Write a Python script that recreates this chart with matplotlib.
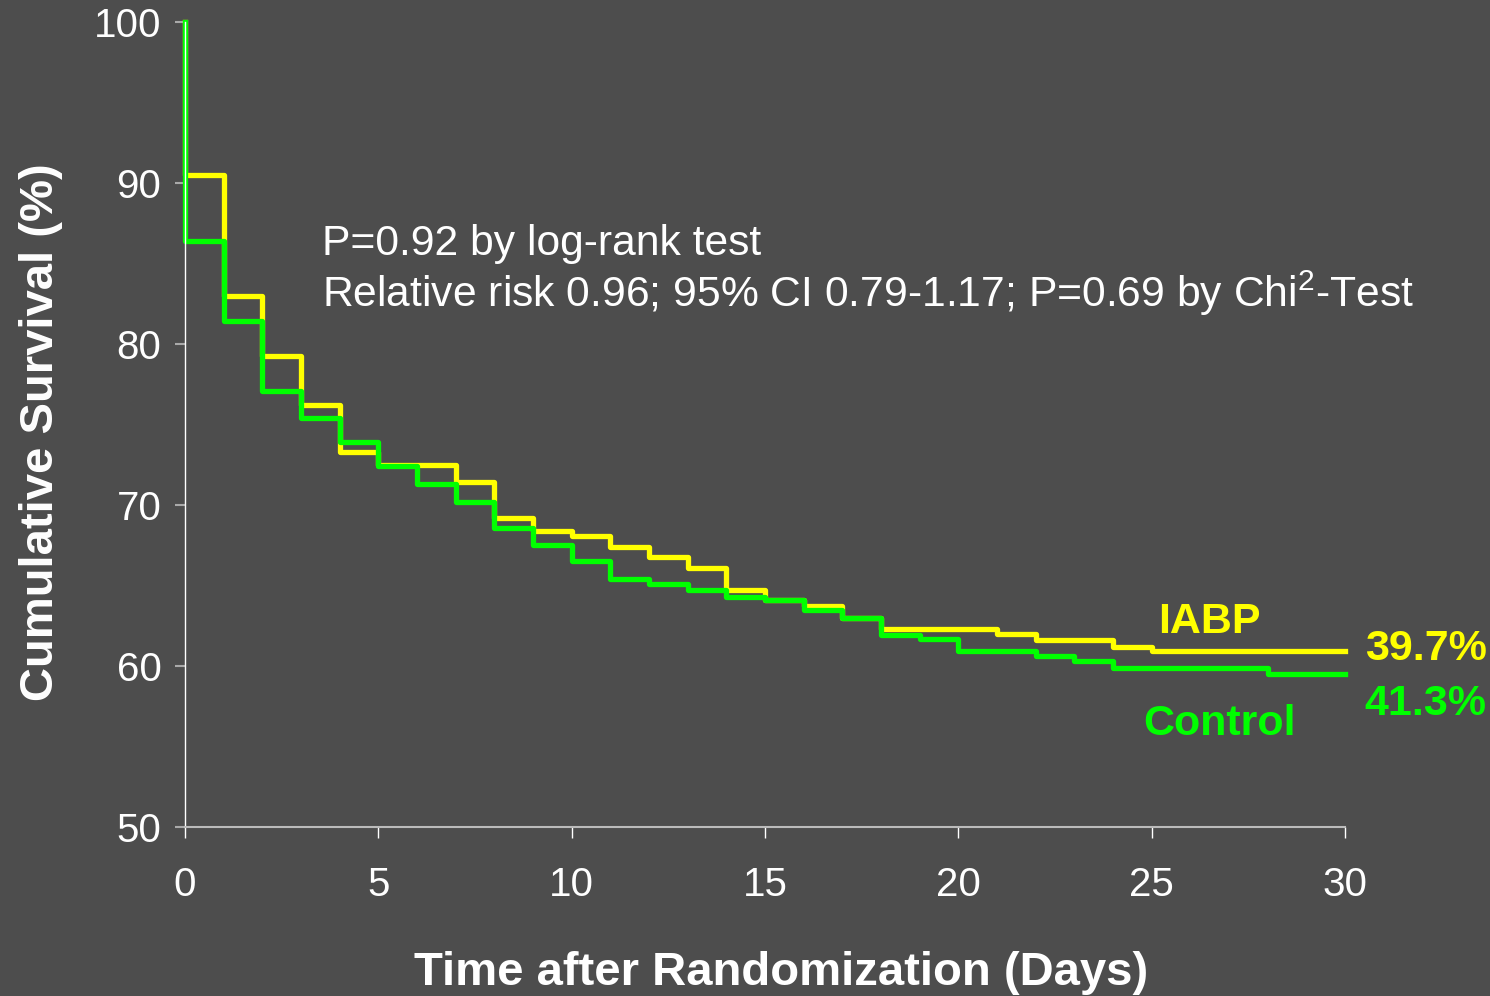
import matplotlib
matplotlib.use("Agg")
import matplotlib.pyplot as plt

# Kaplan-Meier style step data (days, cumulative survival %)
iabp_days = [0, 0, 1, 2, 3, 4, 5, 7, 8, 9, 10, 11, 12, 13, 14, 15, 16, 17, 18, 21, 22, 24, 25, 30]
iabp_surv = [100, 90.5, 83.0, 79.25, 76.2, 73.3, 72.5, 71.4, 69.2, 68.4, 68.1, 67.4, 66.8, 66.1,
             64.7, 64.1, 63.7, 63.0, 62.3, 62.0, 61.6, 61.2, 60.9, 60.9]

control_days = [0, 0, 1, 2, 3, 4, 5, 6, 7, 8, 9, 10, 11, 12, 13, 14, 15, 16, 17, 18, 19, 20, 22, 23, 24, 28, 30]
control_surv = [100, 86.4, 81.4, 77.1, 75.4, 73.9, 72.4, 71.3, 70.2, 68.6, 67.5, 66.5, 65.4, 65.1,
                64.7, 64.3, 64.1, 63.5, 63.0, 61.9, 61.7, 60.9, 60.6, 60.3, 59.9, 59.5, 59.5]

x_ticks = [0, 5, 10, 15, 20, 25, 30]
y_ticks = [50, 60, 70, 80, 90, 100]

BG = "#4d4d4d"
YELLOW = "#ffff00"
GREEN = "#00ff00"
FONT = "Liberation Sans"

plt.rcParams["font.family"] = [FONT, "DejaVu Sans"]
plt.rcParams["mathtext.fontset"] = "custom"
plt.rcParams["mathtext.rm"] = FONT
plt.rcParams["mathtext.it"] = FONT

fig = plt.figure(figsize=(14.9, 9.96), dpi=100, facecolor=BG)
ax = fig.add_axes([0.1242, 0.1697, 0.7785, 0.8082], facecolor=BG)

ax.step(iabp_days, iabp_surv, where="post", color=YELLOW, lw=3.8, clip_on=False)
ax.step(control_days, control_surv, where="post", color=GREEN, lw=3.8, clip_on=False)

ax.set_xlim(0, 30)
ax.set_ylim(50, 100)
ax.set_xticks(x_ticks)
ax.set_yticks(y_ticks)

for side in ["top", "right"]:
    ax.spines[side].set_visible(False)
ax.spines["left"].set_color("white")
ax.spines["left"].set_linewidth(1.0)
ax.spines["bottom"].set_color("#bbbbbb")
ax.spines["bottom"].set_linewidth(1.5)

ax.tick_params(axis="x", colors="white", labelsize=29, length=8, width=1, pad=20)
ax.tick_params(axis="y", colors="#aaaaaa", labelcolor="white", labelsize=29, length=7, width=1.5, pad=10)

ax.set_xlabel("Time after Randomization (Days)", color="white", fontsize=34,
              fontweight="bold", labelpad=34)
ax.xaxis.label.set_x(0.514)
ax.set_ylabel("Cumulative Survival (%)", color="white", fontsize=34,
              fontweight="bold", labelpad=22)
ax.yaxis.label.set_y(0.49)

# annotation text
ax.text(0.118, 0.711, "P=0.92 by log-rank test", transform=ax.transAxes,
        color="white", fontsize=30.7, ha="left", va="baseline")
ax.text(0.118, 0.646, "Relative risk 0.96; 95% CI 0.79-1.17; P=0.69 by Chi$^{2}$-Test",
        transform=ax.transAxes, color="white", fontsize=30.7, ha="left", va="baseline")

# series labels
ax.text(0.883, 0.241, "IABP", transform=ax.transAxes, color=YELLOW, fontsize=31,
        fontweight="bold", ha="center", va="baseline")
ax.text(0.8914, 0.114, "Control", transform=ax.transAxes, color=GREEN, fontsize=31,
        fontweight="bold", ha="center", va="baseline")
ax.text(1.017, 0.2075, "39.7%", transform=ax.transAxes, color=YELLOW, fontsize=31,
        fontweight="bold", ha="left", va="baseline", clip_on=False)
ax.text(1.017, 0.139, "41.3%", transform=ax.transAxes, color=GREEN, fontsize=31,
        fontweight="bold", ha="left", va="baseline", clip_on=False)

fig.savefig("out.png", dpi=100, facecolor=BG)
